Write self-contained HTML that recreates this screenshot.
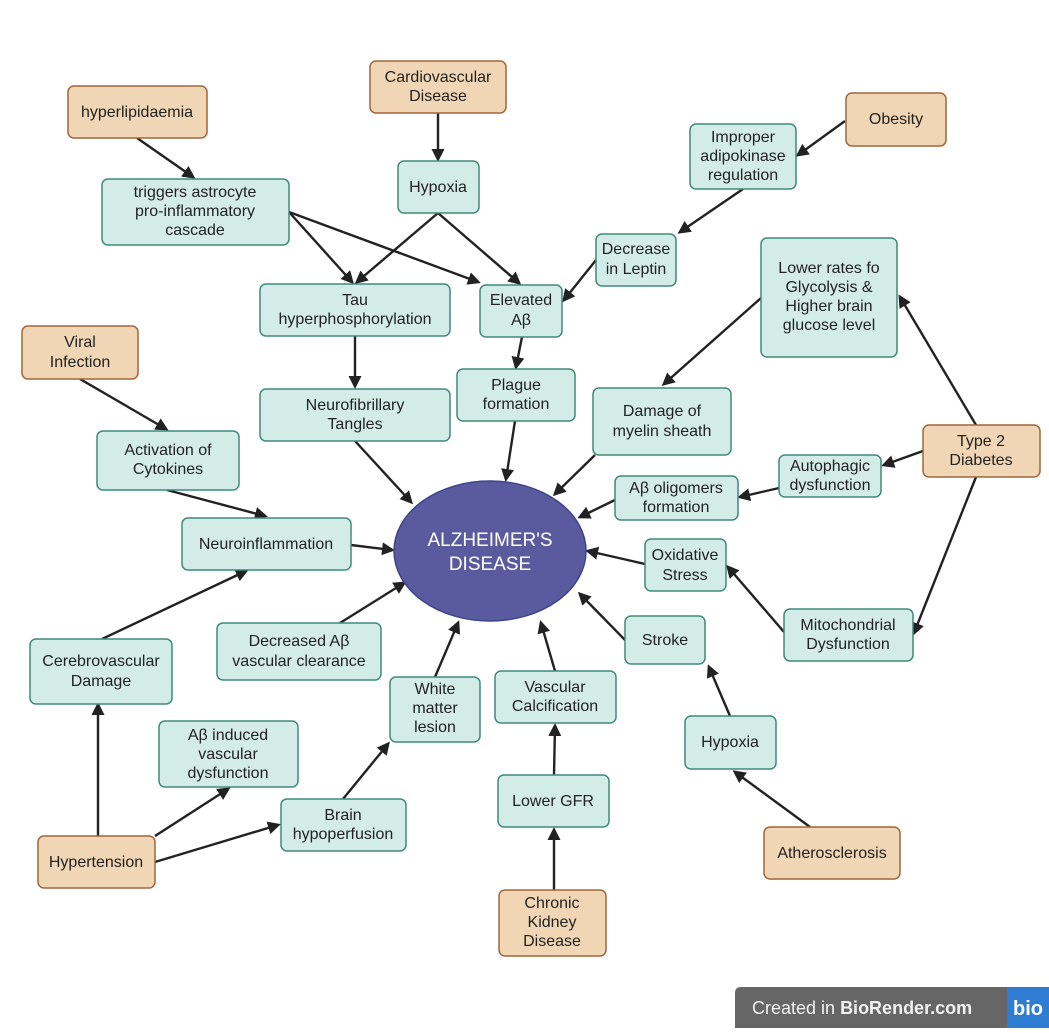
<!DOCTYPE html>
<html><head><meta charset="utf-8"><style>
html,body{margin:0;padding:0;background:#fff}
svg text{font-family:"Liberation Sans",sans-serif;font-size:16px;fill:#222}
.t{fill:#d4ece8;stroke:#3f8a7a;stroke-width:1.5}
.b{fill:#f0d6b4;stroke:#a0663a;stroke-width:1.5}
line{stroke:#222;stroke-width:2.4;marker-end:url(#a)}
</style></head><body>
<svg width="1049" height="1028" viewBox="0 0 1049 1028" xmlns="http://www.w3.org/2000/svg">
<defs><marker id="a" markerWidth="13" markerHeight="13" refX="10" refY="6.5" orient="auto" markerUnits="userSpaceOnUse" viewBox="0 0 13 13"><path d="M0,0 L13,6.5 L0,13 z" fill="#222"/></marker></defs>
<line x1="137" y1="138" x2="193" y2="177"/>
<line x1="438" y1="113" x2="438" y2="159"/>
<line x1="845" y1="121" x2="798" y2="155"/>
<line x1="743" y1="189" x2="680" y2="232"/>
<line x1="596" y1="260" x2="564" y2="300"/>
<line x1="289" y1="212" x2="352" y2="282"/>
<line x1="289" y1="212" x2="478" y2="282"/>
<line x1="438" y1="213" x2="357" y2="282"/>
<line x1="438" y1="213" x2="519" y2="283"/>
<line x1="355" y1="336" x2="355" y2="386"/>
<line x1="522" y1="337" x2="516" y2="367"/>
<line x1="80" y1="379" x2="166" y2="429"/>
<line x1="167" y1="490" x2="265" y2="516"/>
<line x1="351" y1="545" x2="392" y2="550"/>
<line x1="355" y1="441" x2="411" y2="502"/>
<line x1="515" y1="421" x2="506" y2="479"/>
<line x1="595" y1="455" x2="555" y2="494"/>
<line x1="761" y1="298" x2="664" y2="384"/>
<line x1="976" y1="425" x2="900" y2="297"/>
<line x1="923" y1="451" x2="884" y2="465"/>
<line x1="976" y1="477" x2="914" y2="633"/>
<line x1="779" y1="488" x2="740" y2="497"/>
<line x1="615" y1="500" x2="580" y2="517"/>
<line x1="645" y1="564" x2="588" y2="551"/>
<line x1="784" y1="632" x2="728" y2="567"/>
<line x1="625" y1="640" x2="580" y2="594"/>
<line x1="730" y1="716" x2="709" y2="667"/>
<line x1="810" y1="827" x2="735" y2="772"/>
<line x1="555" y1="671" x2="541" y2="623"/>
<line x1="554" y1="775" x2="555" y2="726"/>
<line x1="554" y1="890" x2="554" y2="830"/>
<line x1="435" y1="677" x2="458" y2="623"/>
<line x1="340" y1="623" x2="404" y2="583"/>
<line x1="102" y1="639" x2="246" y2="571"/>
<line x1="98" y1="836" x2="98" y2="705"/>
<line x1="155" y1="836" x2="228" y2="789"/>
<line x1="155" y1="862" x2="278" y2="825"/>
<line x1="343" y1="799" x2="388" y2="744"/>
<ellipse cx="490" cy="551" rx="96" ry="70" fill="#5a5a9e" stroke="#3e4488" stroke-width="1.5"/>
<text x="490" y="546" text-anchor="middle" style="fill:#fff;font-size:19px">ALZHEIMER'S</text>
<text x="490" y="570" text-anchor="middle" style="fill:#fff;font-size:19px">DISEASE</text>
<g>
<rect class="b" x="68" y="86" width="139" height="52" rx="6"/><text x="137" y="117" text-anchor="middle">hyperlipidaemia</text>
<rect class="b" x="370" y="61" width="136" height="52" rx="6"/><text x="438" y="82" text-anchor="middle">Cardiovascular</text><text x="438" y="101" text-anchor="middle">Disease</text>
<rect class="b" x="846" y="93" width="100" height="53" rx="6"/><text x="896" y="124" text-anchor="middle">Obesity</text>
<rect class="t" x="690" y="124" width="106" height="65" rx="6"/><text x="743" y="142" text-anchor="middle">Improper</text><text x="743" y="161" text-anchor="middle">adipokinase</text><text x="743" y="180" text-anchor="middle">regulation</text>
<rect class="t" x="102" y="179" width="187" height="66" rx="6"/><text x="195" y="197" text-anchor="middle">triggers astrocyte</text><text x="195" y="216" text-anchor="middle">pro-inflammatory</text><text x="195" y="235" text-anchor="middle">cascade</text>
<rect class="t" x="398" y="161" width="81" height="52" rx="6"/><text x="438" y="192" text-anchor="middle">Hypoxia</text>
<rect class="t" x="596" y="234" width="80" height="52" rx="6"/><text x="636" y="254" text-anchor="middle">Decrease</text><text x="636" y="274" text-anchor="middle">in Leptin</text>
<rect class="t" x="761" y="238" width="136" height="119" rx="6"/><text x="829" y="273" text-anchor="middle">Lower rates fo</text><text x="829" y="292" text-anchor="middle">Glycolysis &amp;</text><text x="829" y="311" text-anchor="middle">Higher brain</text><text x="829" y="330" text-anchor="middle">glucose level</text>
<rect class="t" x="260" y="284" width="190" height="52" rx="6"/><text x="355" y="305" text-anchor="middle">Tau</text><text x="355" y="324" text-anchor="middle">hyperphosphorylation</text>
<rect class="t" x="480" y="285" width="82" height="52" rx="6"/><text x="521" y="305" text-anchor="middle">Elevated</text><text x="521" y="325" text-anchor="middle">Aβ</text>
<rect class="b" x="22" y="326" width="116" height="53" rx="6"/><text x="80" y="347" text-anchor="middle">Viral</text><text x="80" y="367" text-anchor="middle">Infection</text>
<rect class="t" x="457" y="369" width="118" height="52" rx="6"/><text x="516" y="390" text-anchor="middle">Plague</text><text x="516" y="409" text-anchor="middle">formation</text>
<rect class="t" x="260" y="389" width="190" height="52" rx="6"/><text x="355" y="410" text-anchor="middle">Neurofibrillary</text><text x="355" y="429" text-anchor="middle">Tangles</text>
<rect class="t" x="593" y="388" width="138" height="67" rx="6"/><text x="662" y="416" text-anchor="middle">Damage of</text><text x="662" y="436" text-anchor="middle">myelin sheath</text>
<rect class="b" x="923" y="425" width="117" height="52" rx="6"/><text x="981" y="446" text-anchor="middle">Type 2</text><text x="981" y="465" text-anchor="middle">Diabetes</text>
<rect class="t" x="97" y="431" width="142" height="59" rx="6"/><text x="168" y="455" text-anchor="middle">Activation of</text><text x="168" y="474" text-anchor="middle">Cytokines</text>
<rect class="t" x="779" y="455" width="102" height="42" rx="6"/><text x="830" y="471" text-anchor="middle">Autophagic</text><text x="830" y="490" text-anchor="middle">dysfunction</text>
<rect class="t" x="615" y="476" width="123" height="44" rx="6"/><text x="676" y="493" text-anchor="middle">Aβ oligomers</text><text x="676" y="512" text-anchor="middle">formation</text>
<rect class="t" x="182" y="518" width="169" height="52" rx="6"/><text x="266" y="549" text-anchor="middle">Neuroinflammation</text>
<rect class="t" x="645" y="539" width="81" height="52" rx="6"/><text x="685" y="560" text-anchor="middle">Oxidative</text><text x="685" y="580" text-anchor="middle">Stress</text>
<rect class="t" x="625" y="616" width="80" height="48" rx="6"/><text x="665" y="645" text-anchor="middle">Stroke</text>
<rect class="t" x="784" y="609" width="129" height="52" rx="6"/><text x="848" y="630" text-anchor="middle">Mitochondrial</text><text x="848" y="649" text-anchor="middle">Dysfunction</text>
<rect class="t" x="30" y="639" width="142" height="65" rx="6"/><text x="101" y="666" text-anchor="middle">Cerebrovascular</text><text x="101" y="686" text-anchor="middle">Damage</text>
<rect class="t" x="217" y="623" width="164" height="57" rx="6"/><text x="299" y="646" text-anchor="middle">Decreased Aβ</text><text x="299" y="666" text-anchor="middle">vascular clearance</text>
<rect class="t" x="390" y="677" width="90" height="65" rx="6"/><text x="435" y="694" text-anchor="middle">White</text><text x="435" y="713" text-anchor="middle">matter</text><text x="435" y="732" text-anchor="middle">lesion</text>
<rect class="t" x="495" y="671" width="121" height="52" rx="6"/><text x="555" y="692" text-anchor="middle">Vascular</text><text x="555" y="711" text-anchor="middle">Calcification</text>
<rect class="t" x="159" y="721" width="139" height="66" rx="6"/><text x="228" y="740" text-anchor="middle">Aβ induced</text><text x="228" y="759" text-anchor="middle">vascular</text><text x="228" y="778" text-anchor="middle">dysfunction</text>
<rect class="t" x="685" y="716" width="91" height="53" rx="6"/><text x="730" y="747" text-anchor="middle">Hypoxia</text>
<rect class="t" x="498" y="775" width="111" height="52" rx="6"/><text x="553" y="806" text-anchor="middle">Lower GFR</text>
<rect class="t" x="281" y="799" width="125" height="52" rx="6"/><text x="343" y="820" text-anchor="middle">Brain</text><text x="343" y="839" text-anchor="middle">hypoperfusion</text>
<rect class="b" x="38" y="836" width="117" height="52" rx="6"/><text x="96" y="867" text-anchor="middle">Hypertension</text>
<rect class="b" x="764" y="827" width="136" height="52" rx="6"/><text x="832" y="858" text-anchor="middle">Atherosclerosis</text>
<rect class="b" x="499" y="890" width="107" height="66" rx="6"/><text x="552" y="908" text-anchor="middle">Chronic</text><text x="552" y="927" text-anchor="middle">Kidney</text><text x="552" y="946" text-anchor="middle">Disease</text>
</g>
<path d="M741,987 H1007 V1028 H735 V993 Q735,987 741,987 z" fill="#666"/>
<rect x="1007" y="987" width="42" height="41" fill="#2f7cd3"/>
<text x="752" y="1014" style="fill:#f2f2f2;font-size:18px">Created in <tspan font-weight="bold">BioRender.com</tspan></text>
<text x="1028" y="1015" text-anchor="middle" style="fill:#fff;font-size:20px;font-weight:bold">bio</text>
</svg>
</body></html>
